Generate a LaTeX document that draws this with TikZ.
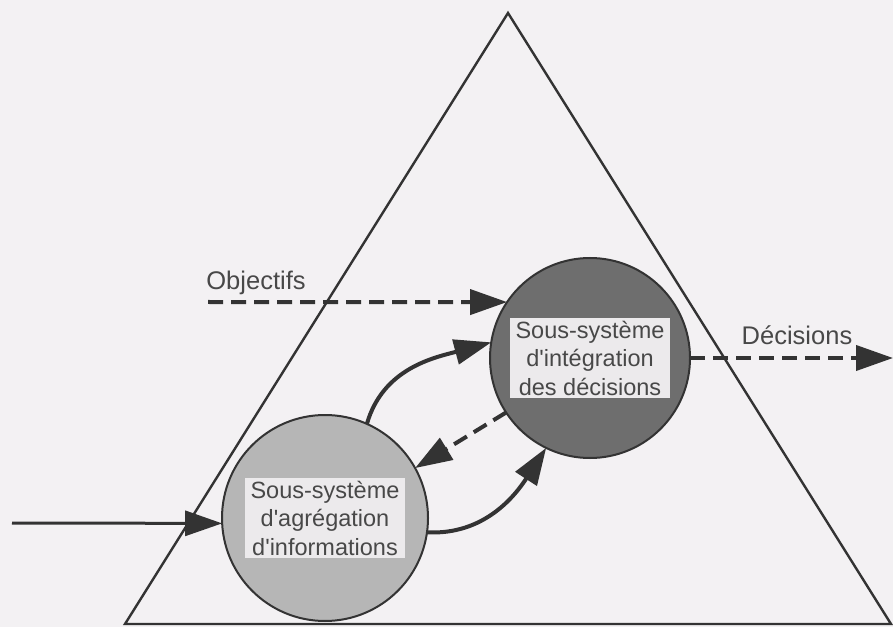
\documentclass[tikz,border=0pt]{standalone}
\usepackage{fontspec}
\newfontfamily\labfont{Liberation Sans}
\usetikzlibrary{arrows.meta}
\definecolor{paper}{HTML}{F3F1F3}
\definecolor{inkc}{HTML}{333333}
\definecolor{textc}{HTML}{484848}
\definecolor{darkfill}{HTML}{6E6E6E}
\definecolor{lightfill}{HTML}{B6B6B6}
\definecolor{boxfill}{HTML}{ECEAEC}
\begin{document}
\begin{tikzpicture}[x=1pt,y=1pt,
  frame/.style={draw=inkc, line width=2.4pt, line join=miter},
  subsys/.style={circle, draw=inkc, line width=2pt, inner sep=0pt, outer sep=0pt},
  txtbox/.style={fill=boxfill, text=textc, align=center, inner xsep=6pt, inner ysep=3pt,
    font=\labfont\fontsize{23.5}{28.5}\selectfont},
  lbl/.style={text=textc, font=\labfont\fontsize{25.5}{30}\selectfont},
  head/.style={-{Triangle[length=37pt,width=25pt]}},
  flow/.style={draw=inkc, line width=4pt, head},
  feed/.style={draw=inkc, line width=4pt, dash pattern=on 15pt off 8pt, head},
  input/.style={draw=inkc, line width=3pt, head}]
\fill[paper] (0,0) rectangle (893,627);
\useasboundingbox (0,0) rectangle (893,627);

% the organisation as a pyramid
\draw[frame] (125,3) -- (508,614) -- (891,3) -- cycle;

% the two sub-systems
\node[subsys, fill=darkfill, minimum size=200pt] (integ) at (590,269) {};
\node[subsys, fill=lightfill, minimum size=206pt] (agreg) at (325,109) {};
\node[txtbox] (integtxt) at (integ.center) {Sous-système\\d'intégration\\des décisions};
\node[txtbox] (agregtxt) at (agreg.center) {Sous-système\\d'agrégation\\d'informations};

% external flows
\coordinate (src) at (12,104);
\coordinate (obj) at (208,325);
\coordinate (dec) at (893,269);
\draw[input] (src) -- (agreg.183);
\draw[feed] (obj) -- (integ.146);
\draw[feed] (integ.east) -- (dec);

% internal flows
\draw[flow] (agreg.66) to[out=74, in=195] (integ.171);
\draw[flow] (agreg.-8) to[out=-3, in=237] (integ.244);
\draw[feed] (integ.213) -- (agreg.29);

% labels
\node[lbl] (objlbl) at (256,344) {Objectifs};
\node[lbl] (declbl) at (797,292) {Décisions};
\end{tikzpicture}
\end{document}
